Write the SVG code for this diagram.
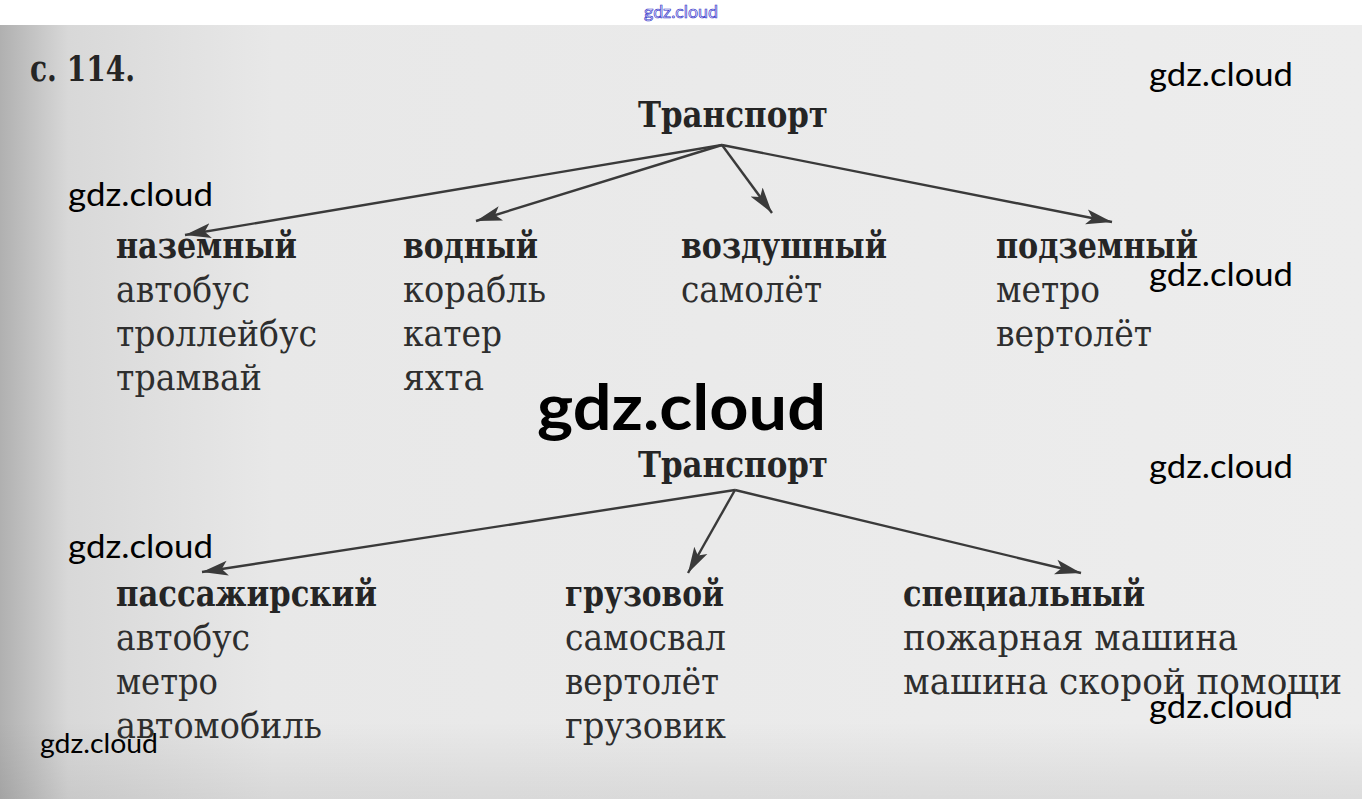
<svg xmlns="http://www.w3.org/2000/svg" width="1362" height="799" viewBox="0 0 1362 799">
<defs>
<linearGradient id="bgL" x1="0" y1="0" x2="1" y2="0">
<stop offset="0" stop-color="#b0b0b0"/>
<stop offset="0.05" stop-color="#d8d8d8"/>
<stop offset="0.2" stop-color="#e8e8e8"/>
<stop offset="1" stop-color="#ededed"/>
</linearGradient>
<linearGradient id="bgB" x1="0" y1="0" x2="0" y2="1">
<stop offset="0.9" stop-color="#000" stop-opacity="0"/>
<stop offset="1" stop-color="#000" stop-opacity="0.07"/>
</linearGradient>
<marker id="ah" markerUnits="userSpaceOnUse" markerWidth="28" markerHeight="18" refX="26" refY="9" orient="auto">
<path d="M0,1.5 L26,9 L0,16.5 L6,9 Z" fill="#3a3a3a"/>
</marker>
<style>
.t{font-family:"DejaVu Serif","Liberation Serif",serif;font-size:35px;fill:#2e2e2e}
.b{font-weight:bold;fill:#252525}
.w{font-family:Lato,"Open Sans","Liberation Sans",sans-serif;fill:#000}
.c{stroke:#3a3a3a;stroke-width:2.4;fill:none;marker-end:url(#ah)}
</style>
</defs>
<rect x="0" y="0" width="1362" height="799" fill="#ffffff"/>
<rect x="0" y="25" width="1362" height="774" fill="url(#bgL)"/>
<rect x="0" y="25" width="1362" height="774" fill="url(#bgB)"/>
<text x="681" y="18" text-anchor="middle" font-family="Lato,'Liberation Sans',sans-serif" font-size="18" fill="#eef" stroke="#3434c8" stroke-width="0.7" textLength="74" lengthAdjust="spacingAndGlyphs">gdz.cloud</text>

<text id="page" class="t b" x="30" y="81" font-size="36" textLength="105" lengthAdjust="spacingAndGlyphs">с. 114.</text>

<g id="connectors">
<line class="c" x1="722" y1="145" x2="185" y2="235"/>
<line class="c" x1="722" y1="145" x2="476" y2="221"/>
<line class="c" x1="722" y1="145" x2="772" y2="213"/>
<line class="c" x1="722" y1="145" x2="1112" y2="222"/>
<line class="c" x1="735" y1="490" x2="202" y2="572"/>
<line class="c" x1="735" y1="490" x2="688" y2="573"/>
<line class="c" x1="735" y1="490" x2="1081" y2="573"/>
</g>

<g id="root1"><text class="t b" x="638" y="127" font-size="37" textLength="190" lengthAdjust="spacingAndGlyphs">Транспорт</text></g>
<g id="ground">
<text class="t b" x="116" y="258" textLength="181" lengthAdjust="spacingAndGlyphs">наземный</text>
<text class="t" x="116" y="302" textLength="134" lengthAdjust="spacingAndGlyphs">автобус</text>
<text class="t" x="116" y="346" textLength="201" lengthAdjust="spacingAndGlyphs">троллейбус</text>
<text class="t" x="116" y="390" textLength="146" lengthAdjust="spacingAndGlyphs">трамвай</text>
</g>
<g id="water">
<text class="t b" x="403" y="258" textLength="135" lengthAdjust="spacingAndGlyphs">водный</text>
<text class="t" x="403" y="302" textLength="143" lengthAdjust="spacingAndGlyphs">корабль</text>
<text class="t" x="403" y="346" textLength="99" lengthAdjust="spacingAndGlyphs">катер</text>
<text class="t" x="403" y="390" textLength="81" lengthAdjust="spacingAndGlyphs">яхта</text>
</g>
<g id="air">
<text class="t b" x="681" y="258" textLength="206" lengthAdjust="spacingAndGlyphs">воздушный</text>
<text class="t" x="681" y="302" textLength="141" lengthAdjust="spacingAndGlyphs">самолёт</text>
</g>
<g id="underground">
<text class="t b" x="996" y="258" textLength="202" lengthAdjust="spacingAndGlyphs">подземный</text>
<text class="t" x="996" y="302" textLength="104" lengthAdjust="spacingAndGlyphs">метро</text>
<text class="t" x="996" y="346" textLength="156" lengthAdjust="spacingAndGlyphs">вертолёт</text>
</g>

<g id="root2"><text class="t b" x="638" y="477" font-size="37" textLength="190" lengthAdjust="spacingAndGlyphs">Транспорт</text></g>
<g id="passenger">
<text class="t b" x="116" y="606" textLength="261" lengthAdjust="spacingAndGlyphs">пассажирский</text>
<text class="t" x="116" y="650" textLength="134" lengthAdjust="spacingAndGlyphs">автобус</text>
<text class="t" x="116" y="694" textLength="102" lengthAdjust="spacingAndGlyphs">метро</text>
<text class="t" x="116" y="738" textLength="206" lengthAdjust="spacingAndGlyphs">автомобиль</text>
</g>
<g id="cargo">
<text class="t b" x="565" y="606" textLength="159" lengthAdjust="spacingAndGlyphs">грузовой</text>
<text class="t" x="565" y="650" textLength="161" lengthAdjust="spacingAndGlyphs">самосвал</text>
<text class="t" x="565" y="694" textLength="154" lengthAdjust="spacingAndGlyphs">вертолёт</text>
<text class="t" x="565" y="738" textLength="161" lengthAdjust="spacingAndGlyphs">грузовик</text>
</g>
<g id="special">
<text class="t b" x="903" y="606" textLength="242" lengthAdjust="spacingAndGlyphs">специальный</text>
<text class="t" x="903" y="650" textLength="335" lengthAdjust="spacingAndGlyphs">пожарная машина</text>
<text class="t" x="903" y="694" textLength="439" lengthAdjust="spacingAndGlyphs">машина скорой помощи</text>
</g>

<g id="watermarks">
<text class="w" x="1149" y="86" font-size="32" textLength="144" lengthAdjust="spacingAndGlyphs">gdz.cloud</text>
<text class="w" x="68" y="206" font-size="32" textLength="145" lengthAdjust="spacingAndGlyphs">gdz.cloud</text>
<text class="w" x="1149" y="286" font-size="32" textLength="144" lengthAdjust="spacingAndGlyphs">gdz.cloud</text>
<text class="w" x="537" y="430" font-size="64" font-weight="bold" textLength="289" lengthAdjust="spacingAndGlyphs">gdz.cloud</text>
<text class="w" x="1149" y="478" font-size="32" textLength="144" lengthAdjust="spacingAndGlyphs">gdz.cloud</text>
<text class="w" x="68" y="558" font-size="32" textLength="145" lengthAdjust="spacingAndGlyphs">gdz.cloud</text>
<text class="w" x="1149" y="718" font-size="32" textLength="144" lengthAdjust="spacingAndGlyphs">gdz.cloud</text>
<text class="w" x="40" y="753" font-size="26" textLength="118" lengthAdjust="spacingAndGlyphs">gdz.cloud</text>
</g>
</svg>
